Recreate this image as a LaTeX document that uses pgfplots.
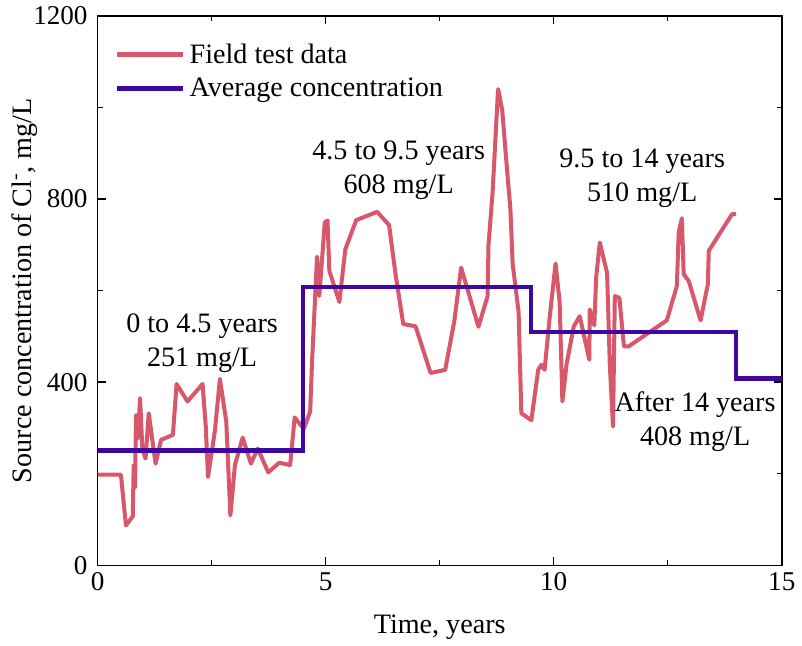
\documentclass[border=0pt]{standalone}
\usepackage{fontspec}
\setmainfont{Liberation Serif}
\usepackage{pgfplots}
\pgfplotsset{compat=1.18}
\definecolor{fieldred}{RGB}{217,87,107}
\definecolor{avgblue}{RGB}{62,8,160}
\begin{document}
\begin{tikzpicture}
\begin{axis}[
  scale only axis,
  width=340.5pt, height=273.5pt,
  xmin=0, xmax=15, ymin=0, ymax=1200,
  xtick={0,5,10,15}, ytick={0,400,800,1200},
  minor xtick={2.5,7.5,12.5}, minor ytick={200,600,1000},
  tick align=inside, major tick length=4pt, minor tick length=2.5pt,
  tick style={black, line width=0.7pt},
  axis line style={line width=0.8pt},
  ticklabel style={font=\fontsize{13.5}{15}\selectfont},
  yticklabel style={xshift=-1.5pt},
  /pgf/number format/assume math mode=true,
  /pgf/number format/1000 sep={},
  xlabel={Time, years},
  ylabel={Source concentration of Cl\textsuperscript{-}, mg/L},
  label style={font=\fontsize{14}{16}\selectfont},
  xlabel style={yshift=-5pt},
  ylabel style={yshift=-9pt},
  legend style={draw=none, fill=none, at={(0.015,0.965)}, anchor=north west,
    font=\fontsize{14}{16}\selectfont, row sep=2pt},
  legend cell align=left,
  legend image code/.code={\draw[#1, line width=2.5pt] (0pt,0pt) -- (33pt,0pt);},
  clip=true,
]
\addplot[fieldred, line width=2pt, line join=round] coordinates {
 (0,198) (0.51,198) (0.62,87) (0.77,107) (0.79,219) (0.82,170) (0.84,328)
 (0.88,277) (0.93,365) (0.98,254) (1.05,233) (1.12,332) (1.27,222) (1.39,274)
 (1.65,285) (1.73,396) (1.97,358) (2.30,396) (2.37,304) (2.42,193) (2.57,293)
 (2.68,407) (2.82,314) (2.91,109) (3.01,219) (3.18,279) (3.36,222) (3.51,255)
 (3.74,203) (3.98,224) (4.22,219) (4.32,323) (4.52,298) (4.66,336) (4.70,442)
 (4.81,674) (4.86,588) (4.98,749) (5.04,753) (5.08,643) (5.30,575) (5.43,690)
 (5.67,754) (6.13,772) (6.39,743) (6.53,637) (6.70,527) (6.97,522) (7.30,420)
 (7.62,427) (7.82,533) (7.97,650) (8.35,521) (8.55,588) (8.57,700) (8.66,815)
 (8.78,1040) (8.87,995) (8.96,884) (9.05,778) (9.10,658) (9.23,553) (9.29,332)
 (9.51,317) (9.66,427) (9.73,438) (9.80,427) (9.91,540) (10.04,659) (10.13,575)
 (10.19,358) (10.28,438) (10.44,522) (10.57,544) (10.78,449) (10.79,559)
 (10.89,524) (10.93,628) (11.01,705) (11.17,639) (11.23,438) (11.30,303)
 (11.34,588) (11.44,584) (11.54,478) (11.64,478) (12.48,535) (12.70,610)
 (12.74,727) (12.81,758) (12.85,636) (12.96,621) (13.22,535) (13.38,614)
 (13.40,687) (13.91,767) (14.0,767)
};
\addlegendentry{Field test data}
\addplot[avgblue, line width=2.2pt] coordinates {
 (0,251) (4.5,251) (4.5,608) (9.5,608) (9.5,510) (14,510) (14,408) (15,408)
};
\addlegendentry{Average concentration}
\tikzset{ann/.style={align=center, font=\fontsize{14}{17}\selectfont}}
\node[ann] at (axis cs:2.29,485) {0 to 4.5 years\\251 mg/L};
\node[ann] at (axis cs:6.6,862) {4.5 to 9.5 years\\608 mg/L};
\node[ann] at (axis cs:11.94,845) {9.5 to 14 years\\510 mg/L};
\node[ann] at (axis cs:13.1,314) {After 14 years\\408 mg/L};
\end{axis}
% a little white margin on the left, as in the reference
\path ([xshift=-2.5pt]current bounding box.south west);
\end{tikzpicture}
\end{document}
